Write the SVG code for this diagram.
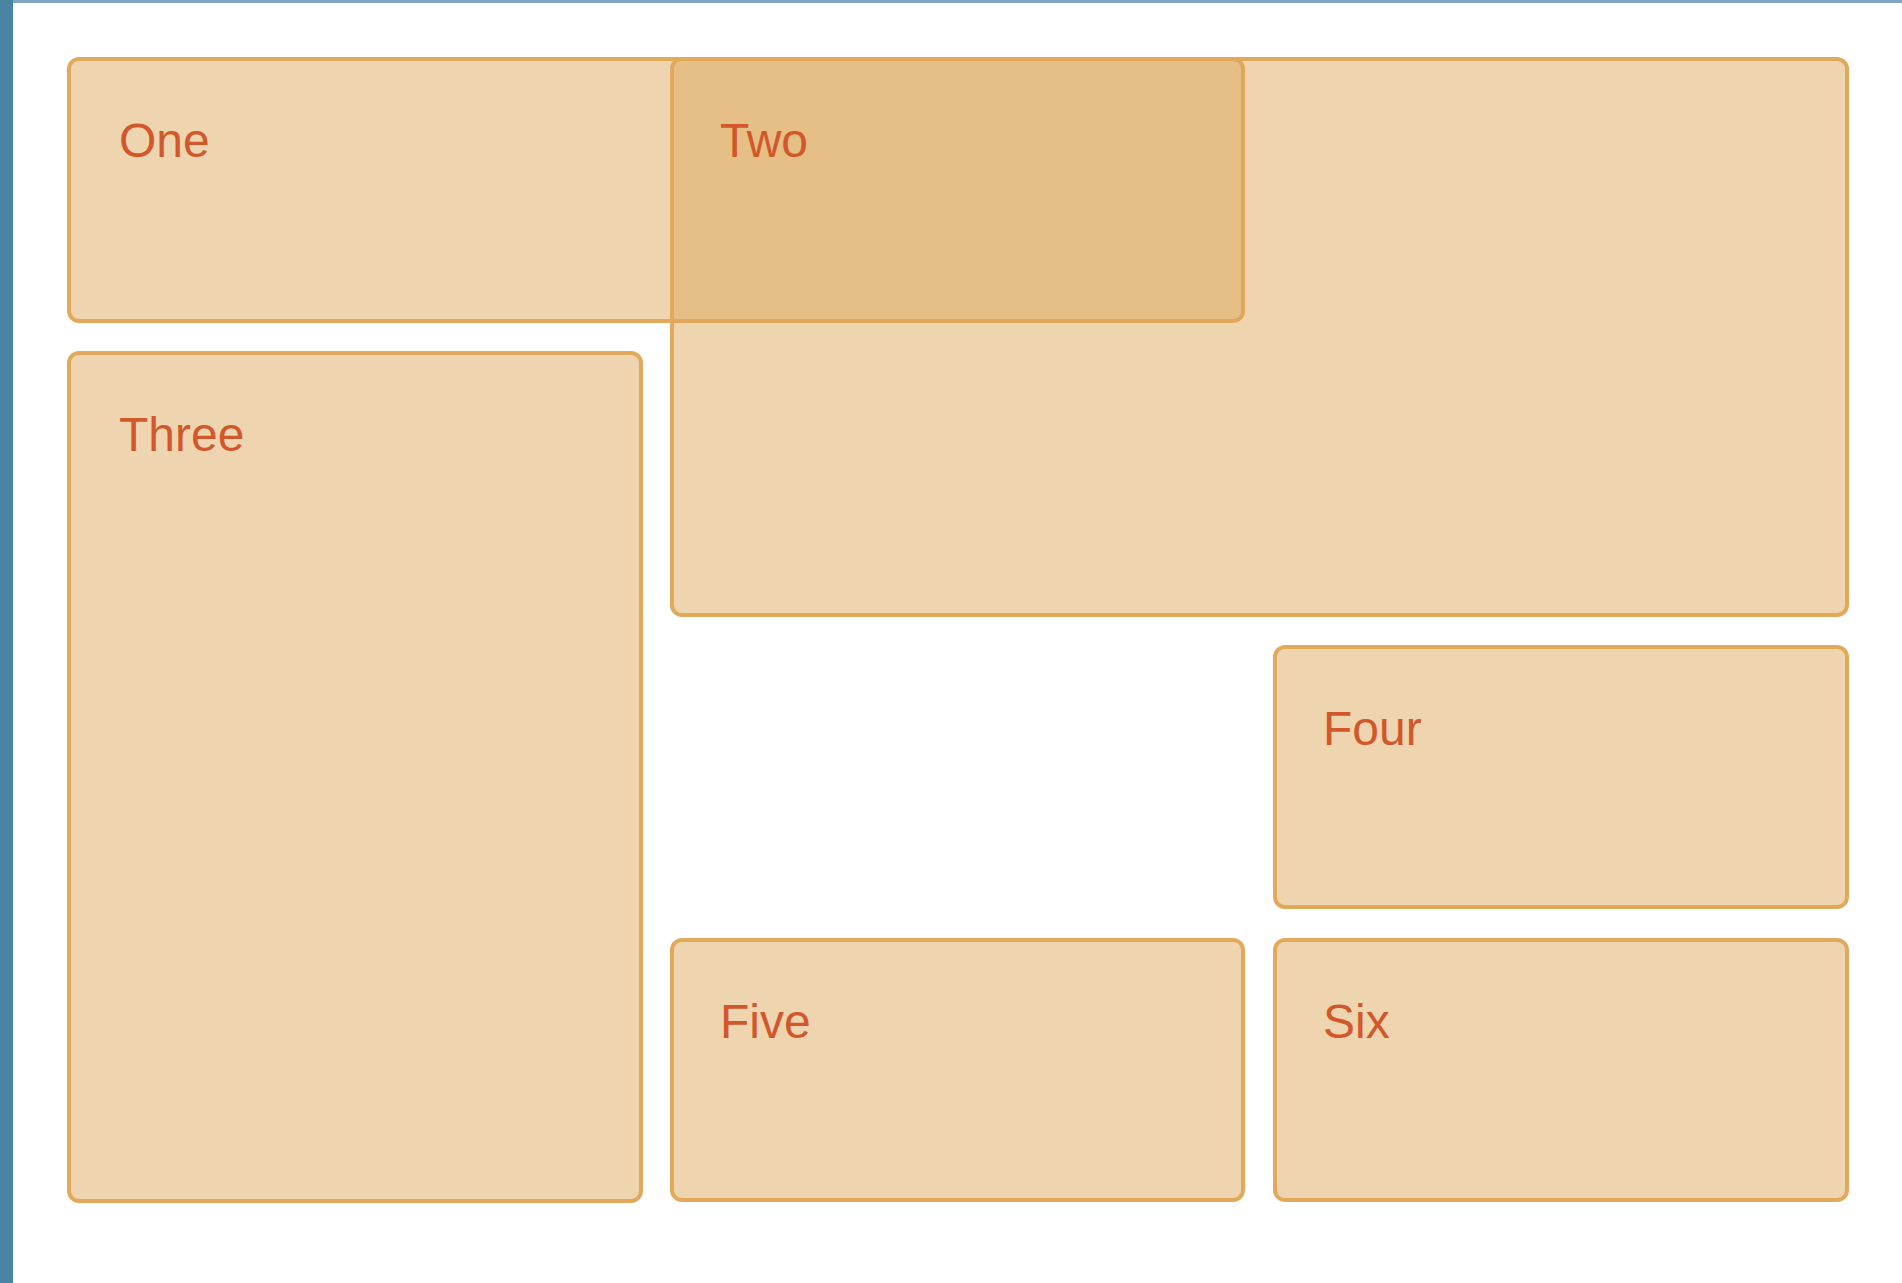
<svg xmlns="http://www.w3.org/2000/svg" width="1902" height="1283" viewBox="0 0 1902 1283">
  <style>
    .box { fill: #dba657; fill-opacity: 0.47; stroke: #e2a95b; stroke-width: 4; }
    .lbl { font-family: "Liberation Sans", Arial, sans-serif; font-size: 48px; fill: #d2582b; }
  </style>
  <rect x="0" y="0" width="1902" height="1283" fill="#ffffff"/>
  <rect x="0" y="0" width="1902" height="3" fill="#7fa6be"/>
  <rect x="0" y="0" width="13" height="1283" fill="#4a84a5"/>
  <g id="one">
    <rect class="box" x="69" y="59" width="1174" height="262" rx="10"/>
    <text class="lbl" x="119" y="157">One</text>
  </g>
  <g id="two">
    <rect class="box" x="672" y="59" width="1175" height="556" rx="10"/>
    <text class="lbl" x="720" y="157">Two</text>
  </g>
  <g id="three">
    <rect class="box" x="69" y="353" width="572" height="848" rx="10"/>
    <text class="lbl" x="119" y="451">Three</text>
  </g>
  <g id="four">
    <rect class="box" x="1275" y="647" width="572" height="260" rx="10"/>
    <text class="lbl" x="1323" y="745">Four</text>
  </g>
  <g id="five">
    <rect class="box" x="672" y="940" width="571" height="260" rx="10"/>
    <text class="lbl" x="720" y="1038">Five</text>
  </g>
  <g id="six">
    <rect class="box" x="1275" y="940" width="572" height="260" rx="10"/>
    <text class="lbl" x="1323" y="1038">Six</text>
  </g>
  <g id="connectors"></g>
</svg>
